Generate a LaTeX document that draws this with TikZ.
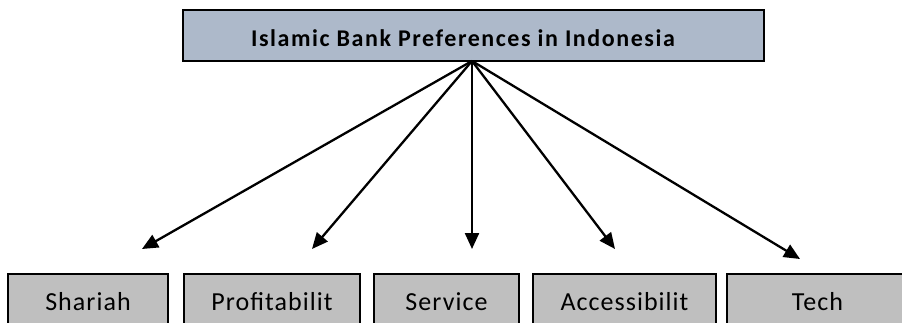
\documentclass[tikz,border=0pt]{standalone}
\usepackage{fontspec}
\setmainfont{Carlito}
\newfontfamily\titlefont[LetterSpace=6.5]{Carlito}
\newfontfamily\catfont[LetterSpace=4]{Carlito}
\usetikzlibrary{arrows.meta}
\definecolor{titlefill}{HTML}{ADB9CA}
\definecolor{boxfill}{HTML}{BFBFBF}
\tikzset{
  titlebox/.style={draw=black, line width=2.4pt, fill=titlefill, inner sep=0pt},
  catbox/.style={draw=black, line width=1.8pt, fill=boxfill, inner sep=0pt, minimum height=70pt},
  catlabel/.style={anchor=base, inner sep=0pt, font=\catfont\fontsize{26}{30}\selectfont},
  titlelabel/.style={anchor=base, inner sep=0pt, font=\titlefont\fontsize{24}{28}\selectfont\bfseries},
  conn/.style={line width=2.3pt, -{Triangle[length=16pt,width=14pt]}}
}
\begin{document}
\begin{tikzpicture}[x=1pt,y=-1pt]
\useasboundingbox (0,0) rectangle (902,323);
\clip (0,0) rectangle (902,323);
% title
\node[titlebox, minimum width=581pt, minimum height=51pt] (top) at (473.5,35.5) {};
\node[titlelabel] (toptext) at (463,47) {Islamic Bank Preferences in Indonesia};
% category boxes
\node[catbox, minimum width=160pt] (shariah) at (88,309) {};
\node[catbox, minimum width=176pt] (profit) at (272,309) {};
\node[catbox, minimum width=145pt] (service) at (446.5,309) {};
\node[catbox, minimum width=183pt] (access) at (624.5,309) {};
\node[catbox, minimum width=181pt] (tech) at (817.5,309) {};
\node[catlabel] (shariahT) at (88,310) {Shariah};
\node[catlabel] (profitT) at (272,310) {Profitabilit};
\node[catlabel] (serviceT) at (446.5,310) {Service};
\node[catlabel] (accessT) at (624.5,310) {Accessibilit};
\node[catlabel] (techT) at (817.5,310) {Tech};
% arrow tips
\coordinate (tipA) at (142,249);
\coordinate (tipB) at (312,249);
\coordinate (tipC) at (472,249);
\coordinate (tipD) at (615,249);
\coordinate (tipE) at (800,259);
\coordinate (src) at (472,61);
\draw[conn] (src) -- (tipA);
\draw[conn] (src) -- (tipB);
\draw[conn] (src) -- (tipC);
\draw[conn] (src) -- (tipD);
\draw[conn] (src) -- (tipE);
\end{tikzpicture}
\end{document}
